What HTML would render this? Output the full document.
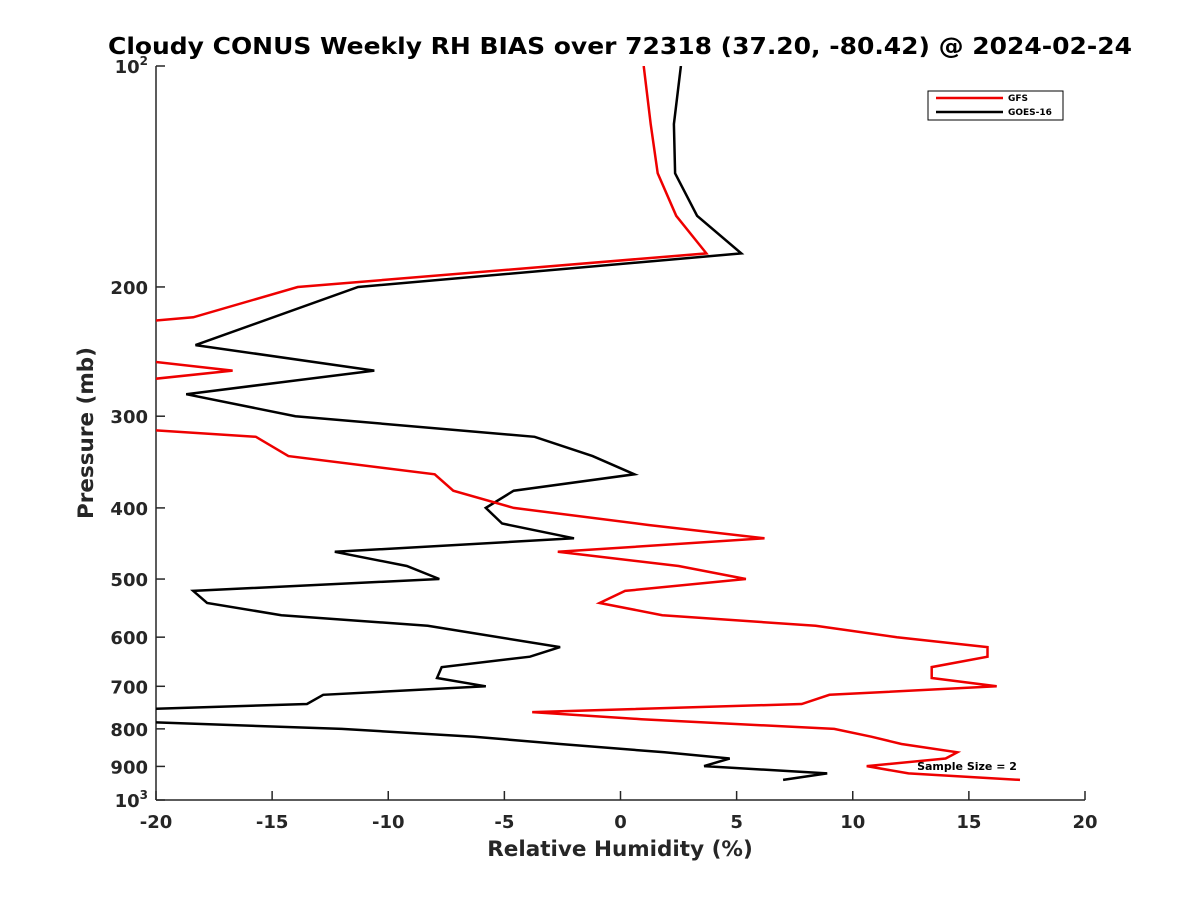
<!DOCTYPE html>
<html><head><meta charset="utf-8"><style>
html,body{margin:0;padding:0;background:#fff;}
svg{display:block;font-family:"DejaVu Sans","Liberation Sans",sans-serif;}
</style></head><body>
<svg id="chart" width="1200" height="900">
<rect width="1200" height="900" fill="#fff"/>
<defs><clipPath id="plotclip"><rect x="156" y="66" width="929" height="734"/></clipPath></defs>
<text x="620" y="54" text-anchor="middle" font-size="23" font-weight="bold" fill="#000" textLength="1024" lengthAdjust="spacingAndGlyphs">Cloudy CONUS Weekly RH BIAS over 72318 (37.20, -80.42) @ 2024-02-24</text>
<g id="axes"></g>
<g id="series" clip-path="url(#plotclip)"></g>
<text x="620" y="856" text-anchor="middle" font-size="21.5" font-weight="bold" fill="#262626">Relative Humidity (%)</text>
<text transform="translate(93,433) rotate(-90)" text-anchor="middle" font-size="21.5" font-weight="bold" fill="#262626">Pressure (mb)</text>
<g>
<rect x="928" y="91" width="135" height="29" fill="#fff" stroke="#000" stroke-width="1"/>
<line x1="936" y1="98" x2="1003" y2="98" stroke="#e00" stroke-width="2.5"/>
<text x="1008" y="101" font-size="9" font-weight="bold">GFS</text>
<line x1="936" y1="112" x2="1003" y2="112" stroke="#000" stroke-width="2.5"/>
<text x="1008" y="115" font-size="9" font-weight="bold">GOES-16</text>
</g>
<text x="967" y="770" text-anchor="middle" font-size="11" font-weight="bold">Sample Size = 2</text>
</svg>
<script>
const xTicks=[-20,-15,-10,-5,0,5,10,15,20];
const yTicks=[100,200,300,400,500,600,700,800,900,1000];
const gfsPressure=[100,120,140,160,180,200,220,225,245,260,275,300,305,320,340,360,379,400,422,440,459,480,500,519,539,560,579,600,619,638,659,682,700,719,740,759,776,800,820,839,861,878,899,920,939];
const gfsBias=[1.0,1.3,1.6,2.4,3.7,-13.9,-18.4,-22,-24,-16.7,-24,-25,-26,-15.7,-14.3,-8.0,-7.2,-4.6,1.2,6.2,-2.7,2.5,5.4,0.2,-0.9,1.8,8.4,11.9,15.8,15.8,13.4,13.4,16.2,9.0,7.8,-3.8,0.9,9.2,10.8,12.1,14.5,14.0,10.6,12.4,17.2];
const goesPressure=[100,120,140,160,180,200,240,260,280,300,320,340,360,379,400,420,440,459,480,500,519,539,560,579,619,638,659,682,700,719,740,760,780,800,820,839,861,878,899,920,939];
const goesBias=[2.6,2.3,2.35,3.3,5.2,-11.3,-18.3,-10.6,-18.7,-14.0,-3.7,-1.2,0.6,-4.6,-5.8,-5.1,-2.0,-12.3,-9.2,-7.8,-18.4,-17.8,-14.6,-8.3,-2.6,-3.9,-7.7,-7.9,-5.8,-12.8,-13.5,-25,-22,-12.0,-6.3,-2.6,1.9,4.7,3.6,8.9,7.0];
const NS='http://www.w3.org/2000/svg';
const X0=156,X1=1085,Y0=66,Y1=800;
function xs(v){return X0+(v+20)/40*(X1-X0);}
function ys(p){return Y0+Math.log10(p/100)*(Y1-Y0);}
function mk(tag,attrs,parent){const e=document.createElementNS(NS,tag);for(const k in attrs)e.setAttribute(k,attrs[k]);parent.appendChild(e);return e;}
const axes=document.getElementById('axes');
const xa=mk('line',{x1:X0,y1:Y1,x2:X1,y2:Y1,stroke:'#262626','stroke-width':1.5},axes);


const ya=mk('line',{x1:X0,y1:Y0,x2:X0,y2:Y1,stroke:'#262626','stroke-width':1.5},axes);


xTicks.forEach(v=>{
  const x=xs(v);
  const t=mk('line',{x1:x,y1:Y1,x2:x,y2:Y1-9,stroke:'#262626','stroke-width':1.5},axes);
  
  
  const l=mk('text',{x:x,y:Y1+28,'text-anchor':'middle','font-size':18,'font-weight':'bold',fill:'#262626'},axes);
  l.textContent=String(v);
  
  
});
yTicks.forEach(p=>{
  const y=ys(p);
  const t=mk('line',{x1:X0,y1:y,x2:X0+9,y2:y,stroke:'#262626','stroke-width':1.5},axes);
  
  
  const l=mk('text',{x:X0-8,y:y+7,'text-anchor':'end','font-size':18,'font-weight':'bold',fill:'#262626'},axes);
  if(p===100||p===1000){
    l.textContent='10';
    const s=mk('tspan',{dy:-8,'font-size':12},l);s.textContent=p===100?'2':'3';
  } else l.textContent=String(p);
  
  
});
const series=document.getElementById('series');
function draw(ps,vs,color,name){
  const d=ps.map((p,i)=>(i?'L':'M')+xs(vs[i]).toFixed(1)+','+ys(p).toFixed(1)).join(' ');
  const path=mk('path',{d:d,fill:'none',stroke:color,'stroke-width':2.5,'stroke-linejoin':'miter'},series);
  
  
}
draw(goesPressure,goesBias,'#000','goes16-line');
draw(gfsPressure,gfsBias,'#e00','gfs-line');
</script>
</body></html>
